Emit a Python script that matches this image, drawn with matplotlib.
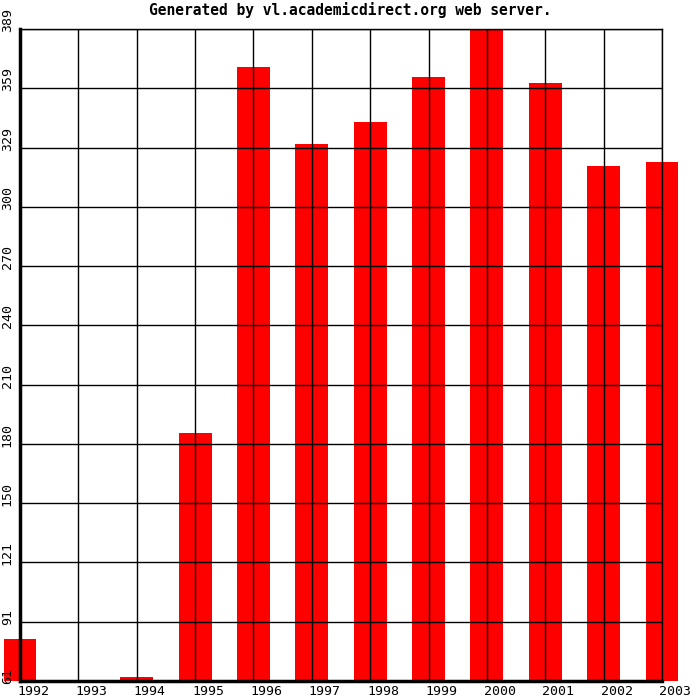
import matplotlib
matplotlib.use('Agg')
import matplotlib.pyplot as plt
import matplotlib.transforms as mtrans
import numpy as np

# data
years = ['1992', '1993', '1994', '1995', '1996', '1997',
         '1998', '1999', '2000', '2001', '2002', '2003']
values = [82, 61, 63, 186, 370, 331, 342, 365, 389, 362, 320, 322]
y_min, y_max = 61, 389
title = 'Generated by vl.academicdirect.org web server.'

fig = plt.figure(figsize=(7, 7), dpi=100)
ax = fig.add_axes([20 / 700, 19 / 700, 642 / 700, 652 / 700])

x = np.arange(len(years))
bars = ax.bar(x, np.array(values) - y_min, bottom=y_min, width=0.565,
              color='#ff0000', edgecolor='none', zorder=1)
for b in bars:
    b.set_clip_on(False)

ax.set_xlim(0, len(years) - 1)
ax.set_ylim(y_min, y_max)

ax.tick_params(axis='both', length=0)
ax.tick_params(axis='x', pad=3)
ax.tick_params(axis='y', pad=4.5)

yt = np.linspace(y_min, y_max, 12)
ax.set_yticks(yt)
ax.set_yticklabels([str(int(round(v))) for v in yt], rotation=90,
                   va='bottom', ha='right', family='DejaVu Sans Mono', fontsize=9.5)
ax.set_xticks(x)
ax.set_xticklabels(years, ha='left', family='DejaVu Sans Mono', fontsize=9.5)

# labels start 3 px before their grid line
xoff = mtrans.ScaledTranslation(-3 / 100, 0, fig.dpi_scale_trans)
for lab in ax.get_xticklabels():
    lab.set_transform(lab.get_transform() + xoff)
yoff = mtrans.ScaledTranslation(0, -3 / 100, fig.dpi_scale_trans)
for lab in ax.get_yticklabels():
    lab.set_transform(lab.get_transform() + yoff)

ax.grid(True, color='black', linewidth=1)
ax.set_axisbelow(False)

ax.spines['left'].set_linewidth(2.5)
ax.spines['bottom'].set_linewidth(2.5)
ax.spines['top'].set_linewidth(1)
ax.spines['right'].set_linewidth(1)
for s in ax.spines.values():
    s.set_zorder(4)

fig.text(0.5, 1 - 10 / 700, title, ha='center', va='center',
         family='DejaVu Sans Mono', fontweight='bold', fontsize=10.5)

fig.savefig('out.png', dpi=100, facecolor='white')
